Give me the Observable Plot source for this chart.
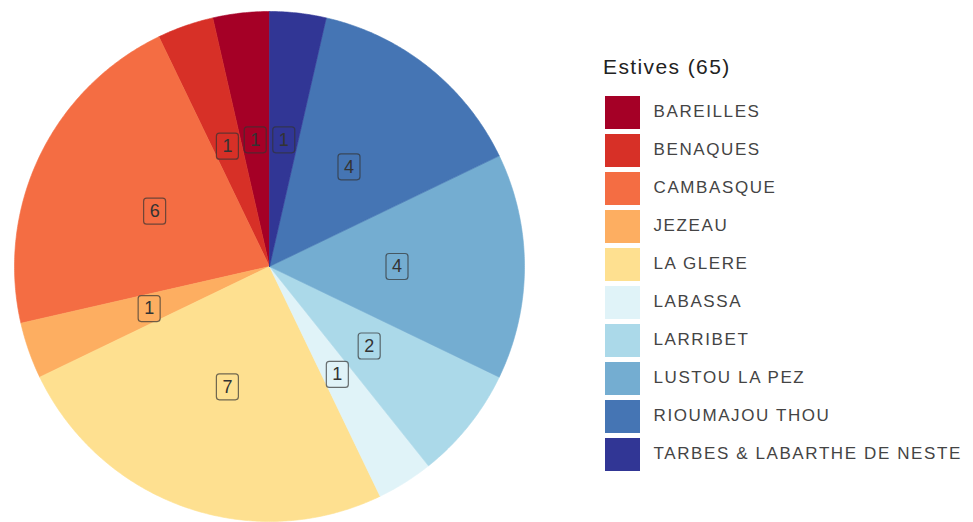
<!DOCTYPE html>
<html>
<head>
<meta charset="utf-8">
<script src="https://cdn.jsdelivr.net/npm/d3@7"></script>
<script src="https://cdn.jsdelivr.net/npm/@observablehq/plot@0.6"></script>
<style>
  body { margin: 0; background: #fff; font-family: "Liberation Sans", Arial, sans-serif; }
  #wrap { position: relative; width: 973px; height: 522px; }
  #pie { position: absolute; left: 0; top: 0; }
  #legend { position: absolute; left: 590px; top: 0; }
  #ltitle { position: absolute; left: 603px; top: 55px; font-size: 21px; letter-spacing: 1.4px; color: #222; }
  #legend text { letter-spacing: 1.6px; }
</style>
</head>
<body>
<div id="wrap">
  <div id="pie"></div>
  <div id="ltitle"></div>
  <div id="legend"></div>
</div>
<script>
const estives = ["BAREILLES", "BENAQUES", "CAMBASQUE", "JEZEAU", "LA GLERE", "LABASSA", "LARRIBET", "LUSTOU LA PEZ", "RIOUMAJOU THOU", "TARBES & LABARTHE DE NESTE"];
const counts = [1, 1, 6, 1, 7, 1, 2, 4, 4, 1];
const legendTitle = "Estives (65)";
document.getElementById("ltitle").textContent = legendTitle;

const colorScale = {type: "ordinal", domain: estives, scheme: "RdYlBu"};

// pie angles: counterclockwise from 12 o'clock
const arcs = d3.pie().sort(null).startAngle(0).endAngle(-2 * Math.PI)(counts);
const slices = [];
const labels = [];
arcs.forEach((a, i) => {
  const name = estives[i];
  const n = Math.max(2, Math.ceil(Math.abs(a.endAngle - a.startAngle) / (Math.PI / 360)));
  slices.push({name, x: 0, y: 0});
  for (let k = 0; k <= n; k++) {
    const t = a.startAngle + (a.endAngle - a.startAngle) * k / n;
    slices.push({name, x: Math.sin(t), y: Math.cos(t)});
  }
  slices.push({name, x: 0, y: 0});
  const mid = (a.startAngle + a.endAngle) / 2;
  labels.push({name, value: a.data, x: 0.5 * Math.sin(mid), y: 0.5 * Math.cos(mid)});
});

const labelBox = {
  draw(ctx) {
    const w = 11, h = 13, r = 3;
    ctx.moveTo(-w + r, -h);
    ctx.lineTo(w - r, -h);
    ctx.arcTo(w, -h, w, -h + r, r);
    ctx.lineTo(w, h - r);
    ctx.arcTo(w, h, w - r, h, r);
    ctx.lineTo(-w + r, h);
    ctx.arcTo(-w, h, -w, h - r, r);
    ctx.lineTo(-w, -h + r);
    ctx.arcTo(-w, -h, -w + r, -h, r);
    ctx.closePath();
  }
};

const pie = Plot.plot({
  width: 560,
  height: 522,
  style: {fontFamily: "'Liberation Sans', Arial, sans-serif", background: "transparent"},
  x: {domain: [-1, 1], range: [14, 524], axis: null},
  y: {domain: [-1, 1], range: [521, 11], axis: null},
  color: colorScale,
  marks: [
    Plot.line(slices, {x: "x", y: "y", z: "name", fill: "name", stroke: "name", strokeWidth: 0.6}),
    Plot.dot(labels, {x: "x", y: "y", symbol: labelBox, r: 10, fill: "name", stroke: "#333", strokeOpacity: 0.7, strokeWidth: 1.2}),
    Plot.text(labels, {x: "x", y: "y", text: d => String(d.value), fontSize: 18, fill: "#333"})
  ]
});
document.getElementById("pie").appendChild(pie);

const legend = Plot.plot({
  width: 383,
  height: 522,
  style: {fontFamily: "'Liberation Sans', Arial, sans-serif", background: "transparent"},
  x: {domain: [0, 1], range: [15, 50], axis: null},
  y: {domain: estives, range: [93, 474.4], paddingInner: 0.12, paddingOuter: 0, axis: null},
  color: colorScale,
  marks: [
    Plot.barX(estives, {x1: 0, x2: 1, y: d => d, fill: d => d}),
    Plot.text(estives, {x: 1, y: d => d, text: d => d, dx: 13, dy: -1, textAnchor: "start", fontSize: 17, fill: "#444"})
  ]
});
document.getElementById("legend").appendChild(legend);
</script>
</body>
</html>
